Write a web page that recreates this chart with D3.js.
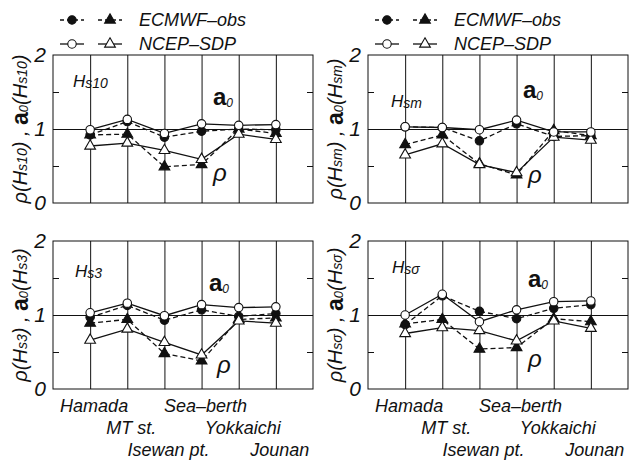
<!DOCTYPE html>
<html>
<head>
<meta charset="utf-8">
<script src="https://cdn.jsdelivr.net/npm/d3@7"></script>
<style>
  html, body { margin: 0; padding: 0; background: #fff; }
  svg { display: block; font-family: "Liberation Sans", Arial, sans-serif; font-style: italic; }
</style>
</head>
<body>
<svg id="chart" width="629" height="461"></svg>
<script>
// Stations along the x axis
const sites = ["Hamada", "MT st.", "Isewan pt.", "Sea–berth", "Yokkaichi", "Jounan"];

// Wave-height statistic shown in each panel (subscript after "Hs")
const statNames = ["10", "m", "3", "σ"];

// Y axis tick labels
const yTickLabels = [0, 1, 2];

// Hs10
const ecmwfA0_Hs10  = [0.92, 1.10, 0.89, 0.97, 1.00, 0.99];
const ecmwfRho_Hs10 = [0.92, 0.93, 0.49, 0.52, 1.00, 0.94];
const ncepA0_Hs10   = [0.99, 1.13, 0.94, 1.07, 1.05, 1.06];
const ncepRho_Hs10  = [0.77, 0.81, 0.71, 0.59, 0.93, 0.86];

// Hsm
const ecmwfA0_Hsm  = [1.03, 1.02, 0.84, 1.07, 0.90, 0.91];
const ecmwfRho_Hsm = [0.79, 0.92, 0.53, 0.38, 0.98, 0.91];
const ncepA0_Hsm   = [1.03, 1.02, 0.99, 1.12, 0.96, 0.96];
const ncepRho_Hsm  = [0.65, 0.80, 0.52, 0.41, 0.89, 0.85];

// Hs3
const ecmwfA0_Hs3  = [0.97, 1.13, 0.93, 1.07, 0.98, 1.02];
const ecmwfRho_Hs3 = [0.89, 0.94, 0.48, 0.38, 0.94, 0.96];
const ncepA0_Hs3   = [1.03, 1.16, 0.99, 1.14, 1.10, 1.11];
const ncepRho_Hs3  = [0.66, 0.81, 0.63, 0.46, 0.92, 0.89];

// Hs-sigma
const ecmwfA0_Hss  = [0.87, 1.26, 1.05, 0.95, 1.09, 1.14];
const ecmwfRho_Hss = [0.88, 0.94, 0.54, 0.56, 0.95, 0.91];
const ncepA0_Hss   = [1.00, 1.28, 0.91, 1.07, 1.18, 1.19];
const ncepRho_Hss  = [0.75, 0.83, 0.79, 0.65, 0.92, 0.82];

const panelData = [
  { ecmwfA0: ecmwfA0_Hs10, ecmwfRho: ecmwfRho_Hs10, ncepA0: ncepA0_Hs10, ncepRho: ncepRho_Hs10 },
  { ecmwfA0: ecmwfA0_Hsm,  ecmwfRho: ecmwfRho_Hsm,  ncepA0: ncepA0_Hsm,  ncepRho: ncepRho_Hsm },
  { ecmwfA0: ecmwfA0_Hs3,  ecmwfRho: ecmwfRho_Hs3,  ncepA0: ncepA0_Hs3,  ncepRho: ncepRho_Hs3 },
  { ecmwfA0: ecmwfA0_Hss,  ecmwfRho: ecmwfRho_Hss,  ncepA0: ncepA0_Hss,  ncepRho: ncepRho_Hss }
];

// ---- layout ----
const W = 260, H = 148;
const layout = [
  { x0: 53,  y0: 55,  name: [20, 32], a0: [160, 50], rho: [160, 126] },
  { x0: 368, y0: 55,  name: [23, 52], a0: [155, 43], rho: [160, 128] },
  { x0: 53,  y0: 241, name: [22, 36], a0: [156, 50], rho: [164, 132] },
  { x0: 368, y0: 241, name: [24, 32], a0: [160, 46], rho: [160, 126] }
];
const INK = "#111";
const DASH = "5,3";

const svg = d3.select("#chart");

const circleSym = d3.symbol().type(d3.symbolCircle).size(56);
const triSym = d3.symbol().type(d3.symbolTriangle).size(50);

// "H" followed by a smaller "s<stat>" part
function addHs(textSel, stat, big, small) {
  textSel.append("tspan").attr("font-size", big).text("H");
  textSel.append("tspan").attr("font-size", small).attr("dy", 1).text("s" + stat);
}

layout.forEach((L, pi) => {
  const data = panelData[pi];
  const stat = statNames[pi];
  const x = d3.scaleLinear().domain([0, 7]).range([L.x0, L.x0 + W]);
  const y = d3.scaleLinear().domain([0, 2]).range([L.y0 + H, L.y0]);
  const g = svg.append("g");

  // vertical gridlines at the stations
  g.append("g")
    .attr("transform", `translate(0,${L.y0 + H})`)
    .call(d3.axisBottom(x).tickValues(d3.range(1, sites.length + 1)).tickSize(-H).tickFormat(""))
    .call(s => s.select(".domain").remove())
    .call(s => s.selectAll("line").attr("stroke", INK).attr("stroke-width", 1));

  // horizontal reference line at 1
  g.append("g")
    .attr("transform", `translate(${L.x0},0)`)
    .call(d3.axisLeft(y).tickValues([1]).tickSize(-W).tickFormat(""))
    .call(s => s.select(".domain").remove())
    .call(s => s.selectAll("line").attr("stroke", INK).attr("stroke-width", 1));

  // inward minor ticks on both sides
  g.append("g")
    .attr("transform", `translate(${L.x0},0)`)
    .call(d3.axisLeft(y).tickValues([0.5, 1.5]).tickSize(-6).tickFormat(""))
    .call(s => s.select(".domain").remove())
    .call(s => s.selectAll("line").attr("stroke", INK));
  g.append("g")
    .attr("transform", `translate(${L.x0 + W},0)`)
    .call(d3.axisRight(y).tickValues([0.5, 1.5]).tickSize(-6).tickFormat(""))
    .call(s => s.select(".domain").remove())
    .call(s => s.selectAll("line").attr("stroke", INK));

  // tick labels 0, 1, 2
  g.append("g")
    .attr("transform", `translate(${L.x0},0)`)
    .call(d3.axisLeft(y).tickValues(yTickLabels).tickSize(0).tickPadding(7).tickFormat(d3.format("d")))
    .call(s => s.select(".domain").remove())
    .call(s => s.selectAll("text")
      .attr("font-family", "'Liberation Sans', Arial, sans-serif")
      .attr("font-style", "italic")
      .attr("font-size", 21)
      .attr("fill", INK));

  // frame
  g.append("rect")
    .attr("x", L.x0).attr("y", L.y0).attr("width", W).attr("height", H)
    .attr("fill", "none").attr("stroke", INK).attr("stroke-width", 1);

  // y axis title: ρ(Hs..) , a0(Hs..)
  const tx = L.x0 - 33, ty = L.y0 + H / 2;
  const title = g.append("text")
    .attr("transform", `translate(${tx},${ty}) rotate(-90)`)
    .attr("text-anchor", "middle")
    .attr("dominant-baseline", "central")
    .attr("fill", INK)
    .attr("font-size", 20);
  title.append("tspan").text("ρ(H");
  title.append("tspan").attr("font-size", 14).attr("dy", 2).text("s" + stat);
  title.append("tspan").attr("dy", -2).text(") , ");
  title.append("tspan").attr("font-size", 23).attr("font-style", "normal").attr("font-weight", "bold").text("a");
  title.append("tspan").attr("font-size", 13).attr("dy", 3).text("0");
  title.append("tspan").attr("dy", -3).text("(H");
  title.append("tspan").attr("font-size", 14).attr("dy", 2).text("s" + stat);
  title.append("tspan").attr("dy", -2).text(")");

  // panel name
  const nm = g.append("text")
    .attr("x", L.x0 + L.name[0]).attr("y", L.y0 + L.name[1])
    .attr("fill", INK);
  addHs(nm, stat, 17, 14);

  // a0 and rho annotations
  const a0 = g.append("text")
    .attr("x", L.x0 + L.a0[0]).attr("y", L.y0 + L.a0[1])
    .attr("fill", INK);
  a0.append("tspan").attr("font-size", 24).attr("font-style", "normal").attr("font-weight", "bold").text("a");
  a0.append("tspan").attr("font-size", 12).attr("dy", 2).text("0");
  g.append("text")
    .attr("x", L.x0 + L.rho[0]).attr("y", L.y0 + L.rho[1])
    .attr("font-size", 24).attr("fill", INK).text("ρ");

  // series
  const series = [
    { vals: data.ecmwfA0,  dash: DASH, sym: circleSym, fill: INK },
    { vals: data.ecmwfRho, dash: DASH, sym: triSym,    fill: INK },
    { vals: data.ncepRho,  dash: null, sym: triSym,    fill: "#fff" },
    { vals: data.ncepA0,   dash: null, sym: circleSym, fill: "#fff" }
  ];
  const line = d3.line().x((d, i) => x(i + 1)).y(d => y(d));
  series.forEach(s => {
    g.append("path")
      .attr("d", line(s.vals))
      .attr("fill", "none")
      .attr("stroke", INK)
      .attr("stroke-width", 1.3)
      .attr("stroke-dasharray", s.dash);
  });
  series.forEach(s => {
    g.selectAll(null).data(s.vals).enter().append("path")
      .attr("d", s.sym)
      .attr("transform", (d, i) => `translate(${x(i + 1)},${y(d)})`)
      .attr("fill", s.fill)
      .attr("stroke", INK)
      .attr("stroke-width", 1.1);
  });

  // staggered station names under the lower panels
  if (pi >= 2) {
    g.selectAll(null).data(sites).enter().append("text")
      .attr("x", (d, i) => x(i + 1) + 4)
      .attr("y", (d, i) => L.y0 + H + 17 + (i % 3) * 22)
      .attr("text-anchor", "middle")
      .attr("dominant-baseline", "central")
      .attr("font-size", 18)
      .attr("fill", INK)
      .text(d => d);
  }
});

// legends above the upper panels
const legendItems = [
  { label: "ECMWF–obs", dash: DASH, fill: INK },
  { label: "NCEP–SDP",  dash: null, fill: "#fff" }
];
[60, 375].forEach(lx => {
  legendItems.forEach((it, r) => {
    const ly = 20 + r * 24;
    const lg = svg.append("g");
    [[lx, lx + 24, circleSym], [lx + 38, lx + 62, triSym]].forEach(([a, b, sym]) => {
      lg.append("line")
        .attr("x1", a).attr("x2", b).attr("y1", ly).attr("y2", ly)
        .attr("stroke", INK).attr("stroke-width", 1.3)
        .attr("stroke-dasharray", it.dash ? "4,3" : null);
      lg.append("path")
        .attr("d", sym)
        .attr("transform", `translate(${(a + b) / 2},${ly})`)
        .attr("fill", it.fill).attr("stroke", INK).attr("stroke-width", 1.1);
    });
    lg.append("text")
      .attr("x", lx + 79).attr("y", ly)
      .attr("dominant-baseline", "central")
      .attr("font-size", 18).attr("fill", INK)
      .text(it.label);
  });
});
</script>
</body>
</html>
